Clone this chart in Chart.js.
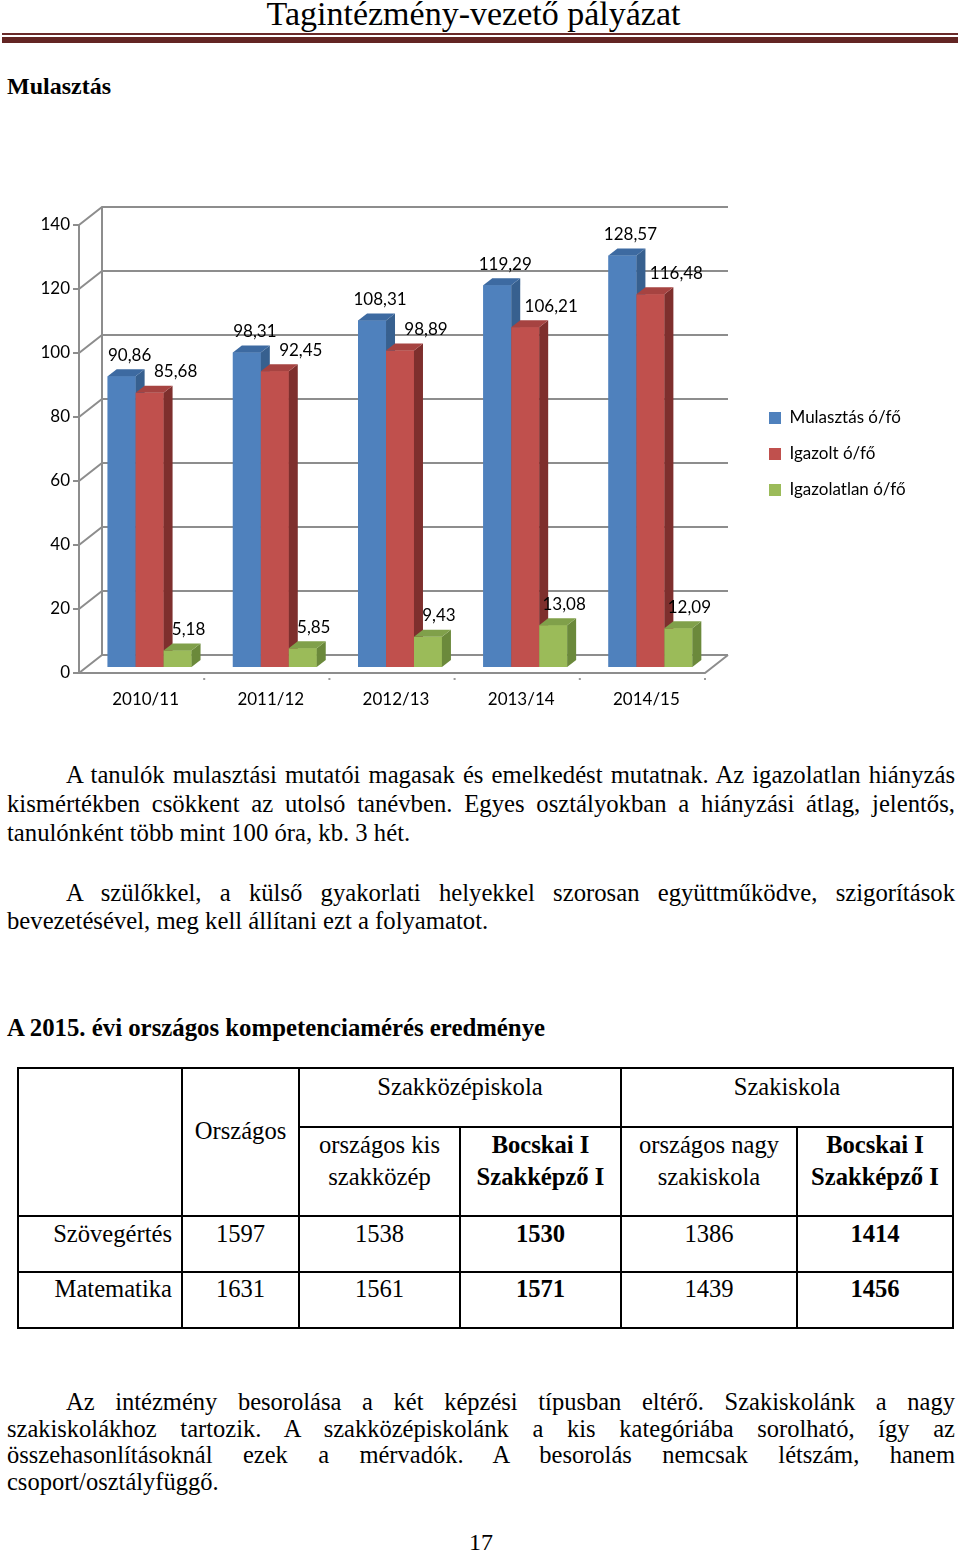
<!DOCTYPE html>
<html lang="hu">
<head>
<meta charset="utf-8">
<script src="https://cdn.jsdelivr.net/npm/chart.js@4.4.1/dist/chart.umd.min.js"></script>
<style>
html,body{margin:0;padding:0;background:#fff;}
#page{position:relative;width:960px;height:1553px;overflow:hidden;font-family:'Liberation Serif','Times New Roman',serif;color:#000;}
.a{position:absolute;}
.t{position:absolute;font-size:24.7px;line-height:29px;}
.jl{left:66px;width:889px;text-align:justify;text-align-last:justify;word-spacing:-3px;}
.jf{left:7px;width:948px;text-align:justify;text-align-last:justify;word-spacing:-3px;}
.ll{left:7px;white-space:nowrap;}
.p3{font-size:24.5px;line-height:27px;}
.hl{position:absolute;background:#000;height:2px;}
.vl{position:absolute;background:#000;width:2px;}
.c{position:absolute;text-align:center;font-size:24.6px;line-height:32px;white-space:nowrap;}
</style>
</head>
<body>
<div id="page">
  <div class="a" style="left:0;top:-3px;width:947px;text-align:center;font-size:34px;line-height:34px;">Tagintézmény-vezető pályázat</div>
  <div class="a" style="left:2px;top:33px;width:956px;height:2px;background:#6a2a29;"></div>
  <div class="a" style="left:2px;top:37px;width:956px;height:6px;background:#632523;"></div>

  <div class="a" style="left:7px;top:72px;font-size:24px;line-height:28px;font-weight:bold;">Mulasztás</div>

  <div class="a" style="left:0;top:190px;width:960px;height:540px;"><canvas id="c" width="960" height="540"></canvas></div>

  <div class="t jl" style="top:760px;">A tanulók mulasztási mutatói magasak és emelkedést mutatnak. Az igazolatlan hiányzás</div>
  <div class="t jf" style="top:789px;">kismértékben csökkent az utolsó tanévben. Egyes osztályokban a hiányzási átlag, jelentős,</div>
  <div class="t ll" style="top:818px;">tanulónként több mint 100 óra, kb. 3 hét.</div>

  <div class="t jl" style="top:878px;">A szülőkkel, a külső gyakorlati helyekkel szorosan együttműködve, szigorítások</div>
  <div class="t ll" style="top:906px;">bevezetésével, meg kell állítani ezt a folyamatot.</div>

  <div class="a" style="left:7px;top:1014px;font-size:24.8px;line-height:28px;font-weight:bold;">A 2015. évi országos kompetenciamérés eredménye</div>

  <!-- table lines -->
  <div class="hl" style="left:17px;top:1067px;width:937px;"></div>
  <div class="hl" style="left:298px;top:1126px;width:656px;"></div>
  <div class="hl" style="left:17px;top:1215px;width:937px;"></div>
  <div class="hl" style="left:17px;top:1271px;width:937px;"></div>
  <div class="hl" style="left:17px;top:1327px;width:937px;"></div>
  <div class="vl" style="left:17px;top:1067px;height:262px;"></div>
  <div class="vl" style="left:181px;top:1067px;height:262px;"></div>
  <div class="vl" style="left:298px;top:1067px;height:262px;"></div>
  <div class="vl" style="left:459px;top:1126px;height:203px;"></div>
  <div class="vl" style="left:620px;top:1067px;height:262px;"></div>
  <div class="vl" style="left:796px;top:1126px;height:203px;"></div>
  <div class="vl" style="left:952px;top:1067px;height:262px;"></div>

  <div class="c" style="left:299px;width:322px;top:1071px;">Szakközépiskola</div>
  <div class="c" style="left:621px;width:332px;top:1071px;">Szakiskola</div>
  <div class="c" style="left:182px;width:117px;top:1115px;">Országos</div>
  <div class="c" style="left:299px;width:161px;top:1129px;">országos kis<br>szakközép</div>
  <div class="c" style="left:460px;width:161px;top:1129px;font-weight:bold;">Bocskai I<br>Szakképző I</div>
  <div class="c" style="left:621px;width:176px;top:1129px;">országos nagy<br>szakiskola</div>
  <div class="c" style="left:797px;width:156px;top:1129px;font-weight:bold;">Bocskai I<br>Szakképző I</div>

  <div class="c" style="left:18px;width:154px;top:1218px;text-align:right;">Szövegértés</div>
  <div class="c" style="left:182px;width:117px;top:1218px;">1597</div>
  <div class="c" style="left:299px;width:161px;top:1218px;">1538</div>
  <div class="c" style="left:460px;width:161px;top:1218px;font-weight:bold;">1530</div>
  <div class="c" style="left:621px;width:176px;top:1218px;">1386</div>
  <div class="c" style="left:797px;width:156px;top:1218px;font-weight:bold;">1414</div>

  <div class="c" style="left:18px;width:154px;top:1273px;text-align:right;">Matematika</div>
  <div class="c" style="left:182px;width:117px;top:1273px;">1631</div>
  <div class="c" style="left:299px;width:161px;top:1273px;">1561</div>
  <div class="c" style="left:460px;width:161px;top:1273px;font-weight:bold;">1571</div>
  <div class="c" style="left:621px;width:176px;top:1273px;">1439</div>
  <div class="c" style="left:797px;width:156px;top:1273px;font-weight:bold;">1456</div>

  <div class="t jl p3" style="top:1388px;">Az intézmény besorolása a két képzési típusban eltérő. Szakiskolánk a nagy</div>
  <div class="t jf p3" style="top:1415px;">szakiskolákhoz tartozik. A szakközépiskolánk a kis kategóriába sorolható, így az</div>
  <div class="t jf p3" style="top:1441px;">összehasonlításoknál ezek a mérvadók. A besorolás nemcsak létszám, hanem</div>
  <div class="t ll p3" style="top:1468px;">csoport/osztályfüggő.</div>

  <div class="a" style="left:0;width:962px;top:1527px;text-align:center;font-size:24px;line-height:30px;">17</div>
</div>

<script>
// ---- chart data ----
const categories = ['2010/11', '2011/12', '2012/13', '2013/14', '2014/15'];
const seriesNames = ['Mulasztás ó/fő', 'Igazolt ó/fő', 'Igazolatlan ó/fő'];
const mulasztas = [90.86, 98.31, 108.31, 119.29, 128.57];
const igazolt = [85.68, 92.45, 98.89, 106.21, 116.48];
const igazolatlan = [5.18, 5.85, 9.43, 13.08, 12.09];
const yMin = 0, yMax = 140, yStep = 20;

// ---- styles ----
const FRONT_COL = ['#4f81bd', '#c0504d', '#9bbb59'];
const SIDE_COL = ['#37608f', '#7e2f2d', '#6b893b'];
const TOP_COL = ['#3d6aa1', '#a64341', '#80a04a'];
const LABEL_DX = [8, 26, 11];
const LABEL_DY = -21;
const FRONT = {dx: -8, dy: 6};
const BACK = {dx: 15, dy: -12};
const DEPTH = {dx: 9, dy: -7};
const LEGEND_SHIFT = 11;

Chart.defaults.font.family = 'Lato, "Open Sans", sans-serif';
Chart.defaults.font.size = 17;
Chart.defaults.color = '#000';

const legendPlacePlugin = {
  id: 'legendPlace',
  beforeLayout(chart) {
    const lg = chart.legend;
    if (lg && !lg._fixedW) {
      const f = lg.fit;
      lg.fit = function () { f.call(this); this.width = 210; };
      lg._fixedW = true;
    }
  },
  afterLayout(chart) {
    const lg = chart.legend;
    if (lg) { lg.top += LEGEND_SHIFT; lg.bottom += LEGEND_SHIFT; }
  }
};

const wallPlugin = {
  id: 'wall',
  beforeDatasetsDraw(chart) {
    const {ctx, chartArea: a, scales: {x, y}} = chart;
    const L = a.left, R = a.right;
    ctx.save();
    ctx.strokeStyle = '#8d8d8d';
    ctx.lineWidth = 2;
    y.ticks.forEach(t => {
      const py = y.getPixelForValue(t.value);
      ctx.beginPath();
      ctx.moveTo(L + FRONT.dx, py + FRONT.dy);
      ctx.lineTo(L + BACK.dx, py + BACK.dy);
      ctx.lineTo(R + BACK.dx, py + BACK.dy);
      ctx.stroke();
      ctx.beginPath();
      ctx.moveTo(L + FRONT.dx - 6, py + FRONT.dy);
      ctx.lineTo(L + FRONT.dx, py + FRONT.dy);
      ctx.stroke();
    });
    const top = y.getPixelForValue(yMax), bot = y.getPixelForValue(yMin);
    ctx.beginPath();
    ctx.moveTo(L + BACK.dx, top + BACK.dy); ctx.lineTo(L + BACK.dx, bot + BACK.dy);
    ctx.moveTo(L + FRONT.dx, top + FRONT.dy); ctx.lineTo(L + FRONT.dx, bot + FRONT.dy);
    ctx.stroke();
    ctx.beginPath();
    ctx.moveTo(L + FRONT.dx, bot + FRONT.dy);
    ctx.lineTo(R + FRONT.dx, bot + FRONT.dy);
    ctx.lineTo(R + BACK.dx, bot + BACK.dy);
    ctx.stroke();
    ctx.fillStyle = '#9a9a9a';
    for (let i = 0; i < categories.length; i++) {
      const bx = (i < categories.length - 1)
        ? (x.getPixelForValue(i) + x.getPixelForValue(i + 1)) / 2
        : R;
      ctx.fillRect(bx + FRONT.dx - 1, bot + FRONT.dy + 5, 2, 2);
    }
    ctx.restore();
  },
  afterDatasetsDraw(chart) {
    const ctx = chart.ctx;
    ctx.save();
    // 3D bars, drawn in series order
    chart.data.datasets.forEach((ds, di) => {
      const meta = chart.getDatasetMeta(di);
      meta.data.forEach(el => {
        const {x, y, base, width} = el.getProps(['x', 'y', 'base', 'width'], true);
        const l = x - width / 2, r = x + width / 2;
        ctx.fillStyle = FRONT_COL[di];
        ctx.fillRect(l, y, width, base - y);
        ctx.fillStyle = SIDE_COL[di];
        ctx.beginPath();
        ctx.moveTo(r, y); ctx.lineTo(r + DEPTH.dx, y + DEPTH.dy);
        ctx.lineTo(r + DEPTH.dx, base + DEPTH.dy); ctx.lineTo(r, base);
        ctx.closePath(); ctx.fill();
        ctx.fillStyle = TOP_COL[di];
        ctx.beginPath();
        ctx.moveTo(l, y); ctx.lineTo(l + DEPTH.dx, y + DEPTH.dy);
        ctx.lineTo(r + DEPTH.dx, y + DEPTH.dy); ctx.lineTo(r, y);
        ctx.closePath(); ctx.fill();
      });
    });
    // value labels
    ctx.font = '17px Lato, "Open Sans", sans-serif';
    ctx.fillStyle = '#000';
    ctx.textAlign = 'center';
    ctx.textBaseline = 'middle';
    chart.data.datasets.forEach((ds, di) => {
      const meta = chart.getDatasetMeta(di);
      meta.data.forEach((el, i) => {
        const {x, y} = el.getProps(['x', 'y'], true);
        const txt = ds.data[i].toFixed(2).replace('.', ',');
        ctx.fillText(txt, x + LABEL_DX[di], y + LABEL_DY);
      });
    });
    ctx.restore();
  }
};

new Chart(document.getElementById('c'), {
  type: 'bar',
  data: {
    labels: categories,
    datasets: [
      {label: seriesNames[0], data: mulasztas, backgroundColor: FRONT_COL[0], yAxisID: 'y'},
      {label: seriesNames[1], data: igazolt, backgroundColor: FRONT_COL[1], yAxisID: 'y'},
      {label: seriesNames[2], data: igazolatlan, backgroundColor: FRONT_COL[2], yAxisID: 'y'}
    ]
  },
  options: {
    responsive: false,
    animation: false,
    devicePixelRatio: 1,
    events: [],
    layout: {padding: {top: 29, left: 0, right: 0, bottom: 0}},
    datasets: {bar: {categoryPercentage: 0.67, barPercentage: 1, borderWidth: 0}},
    scales: {
      x: {
        grid: {display: false, drawTicks: false},
        border: {display: false},
        ticks: {padding: 22, labelOffset: -4, color: '#000', font: {size: 17}},
        afterFit(s) { s.height = 63; }
      },
      y: {
        min: yMin, max: yMax,
        grid: {display: false, drawTicks: false},
        border: {display: false},
        ticks: {stepSize: yStep, padding: 17, labelOffset: 6, color: '#000', font: {size: 17}},
        afterFit(s) { s.width = 87; }
      },
      yR: {
        type: 'linear', position: 'right', display: true,
        grid: {display: false, drawTicks: false},
        border: {display: false},
        ticks: {display: false},
        afterFit(s) { s.width = 37; }
      }
    },
    plugins: {
      tooltip: {enabled: false},
      legend: {
        position: 'right',
        align: 'center',
        fullSize: false,
        labels: {
          boxWidth: 12, boxHeight: 12, padding: 19,
          color: '#000', font: {size: 17},
          sort: (a, b) => a.datasetIndex - b.datasetIndex
        }
      }
    }
  },
  plugins: [legendPlacePlugin, wallPlugin]
});
</script>
</body>
</html>
